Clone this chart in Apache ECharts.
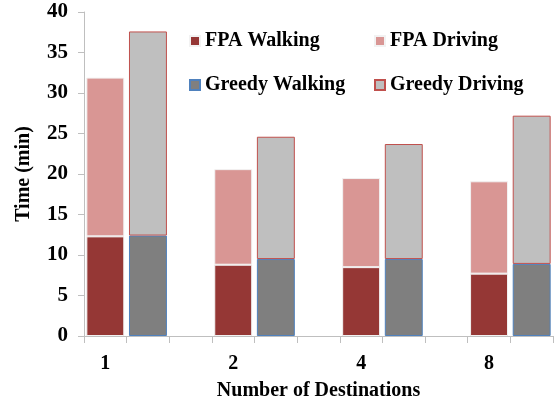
<!DOCTYPE html>
<html>
<head>
<meta charset="utf-8">
<script src="https://cdn.jsdelivr.net/npm/echarts@6/dist/echarts.min.js"></script>
<style>
  html, body { margin: 0; padding: 0; background: #fff; }
  #main { width: 558px; height: 406px; }
</style>
</head>
<body>
<div id="main"></div>
<script>
// data
var categories = ['1', '2', '4', '8'];
var fpaWalking = [12.3, 8.8, 8.5, 7.7];
var fpaTotal = [31.9, 20.6, 19.5, 19.1];
var greedyWalking = [12.4, 9.5, 9.5, 8.9];
var greedyTotal = [37.6, 24.6, 23.7, 27.2];
var yTicks = [0, 5, 10, 15, 20, 25, 30, 35, 40];

var font = 'Liberation Serif';
var colors = ['#953735', '#d99694', '#7f7f7f', '#bfbfbf', '#bfbfbf']; // fpa walk, fpa drive, greedy walk, greedy drive, axis grey

// every category gets 3 slots: FPA bar, Greedy bar, empty gap (no gap after the last)
var slots = [];
var fpaWalkSlots = [], fpaDriveSlots = [], grWalkSlots = [], grDriveSlots = [];
categories.forEach(function (c, i) {
    var n = (i === categories.length - 1) ? 2 : 3;
    for (var k = 0; k < n; k++) {
        slots.push(k === 0 ? c : '');
        fpaWalkSlots.push(k === 0 ? fpaWalking[i] : '-');
        fpaDriveSlots.push(k === 0 ? +(fpaTotal[i] - fpaWalking[i]).toFixed(2) : '-');
        grWalkSlots.push(k === 1 ? greedyWalking[i] : '-');
        grDriveSlots.push(k === 1 ? +(greedyTotal[i] - greedyWalking[i]).toFixed(2) : '-');
    }
});

var myChart = echarts.init(document.getElementById('main'));

function legendAt(name, left, top) {
    return {
        data: [name],
        left: left,
        top: top,
        padding: 0,
        icon: 'rect',
        itemWidth: 10,
        itemHeight: 10,
        selectedMode: false,
        textStyle: { fontFamily: font, fontWeight: 'bold', fontSize: 20, color: '#000' }
    };
}

var option = {
    animation: false,
    grid: { left: 84, right: 5, top: 12, bottom: 70 },
    legend: [
        legendAt('FPA Walking', 189, 31),
        legendAt('FPA Driving', 374, 31),
        legendAt('Greedy Walking', 189, 75),
        legendAt('Greedy Driving', 374, 75)
    ],
    xAxis: {
        type: 'category',
        data: slots,
        boundaryGap: true,
        name: 'Number of Destinations',
        nameLocation: 'middle',
        nameGap: 45,
        nameTextStyle: { fontFamily: font, fontWeight: 'bold', fontSize: 20, color: '#000' },
        axisLine: { lineStyle: { color: colors[4], width: 1 } },
        axisTick: { show: true, interval: 0, length: 7, lineStyle: { color: colors[4] } },
        axisLabel: { interval: 0, margin: 18, fontFamily: font, fontWeight: 'bold', fontSize: 20, color: '#000' },
        splitLine: { show: false }
    },
    yAxis: {
        type: 'value',
        min: yTicks[0],
        max: yTicks[yTicks.length - 1],
        interval: 5,
        name: 'Time (min)',
        nameLocation: 'middle',
        nameGap: 50,
        nameTextStyle: { fontFamily: font, fontWeight: 'bold', fontSize: 20, color: '#000' },
        axisLine: { show: true, lineStyle: { color: colors[4], width: 1 } },
        axisTick: { show: true, length: 6, lineStyle: { color: colors[4] } },
        axisLabel: { margin: 16, fontFamily: font, fontWeight: 'bold', fontSize: 21, color: '#000' },
        splitLine: { show: false }
    },
    series: [
        {
            name: 'FPA Walking', type: 'bar', stack: 'fpa', data: fpaWalkSlots,
            barGap: '-100%', barCategoryGap: '11%',
            itemStyle: { color: colors[0], borderColor: '#f2f2f2', borderWidth: 1 }
        },
        {
            name: 'FPA Driving', type: 'bar', stack: 'fpa', data: fpaDriveSlots,
            barGap: '-100%', barCategoryGap: '11%',
            itemStyle: { color: colors[1], borderColor: '#f2f2f2', borderWidth: 1 }
        },
        {
            name: 'Greedy Walking', type: 'bar', stack: 'greedy', data: grWalkSlots,
            barGap: '-100%', barCategoryGap: '11%',
            itemStyle: { color: colors[2], borderColor: '#4f81bd', borderWidth: 1 }
        },
        {
            name: 'Greedy Driving', type: 'bar', stack: 'greedy', data: grDriveSlots,
            barGap: '-100%', barCategoryGap: '11%',
            itemStyle: { color: colors[3], borderColor: '#c0504d', borderWidth: 1 }
        }
    ]
};
myChart.setOption(option);
</script>
</body>
</html>
